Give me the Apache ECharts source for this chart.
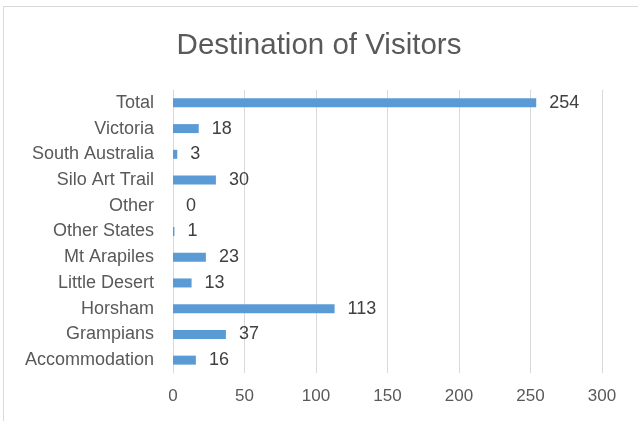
<!DOCTYPE html>
<html>
<head>
<meta charset="utf-8">
<script src="https://cdn.jsdelivr.net/npm/echarts@6/dist/echarts.min.js"></script>
<style>
  html, body { margin: 0; padding: 0; background: #fff; }
  #chart { width: 638px; height: 421px; }
  .frame {
    position: absolute; left: 3px; top: 6px; width: 700px; height: 500px;
    border: 1px solid #d9d9d9; pointer-events: none;
  }
</style>
</head>
<body>
<div id="chart"></div>
<div class="frame"></div>
<script>
// categories, top to bottom
const categories = ['Total', 'Victoria', 'South Australia', 'Silo Art Trail', 'Other',
  'Other States', 'Mt Arapiles', 'Little Desert', 'Horsham', 'Grampians', 'Accommodation']
const visitors = [254, 18, 3, 30, 0, 1, 23, 13, 113, 37, 16]
const xTicks = [0, 50, 100, 150, 200, 250, 300]

const font = 'Liberation Sans, Arial, sans-serif'
const myChart = echarts.init(document.getElementById('chart'))

let options = {
  animation: false,
  title: {
    text: 'Destination of Visitors',
    left: 'center',
    top: 26,
    textStyle: { fontFamily: font, fontSize: 29.5, fontWeight: 'normal', color: '#595959' }
  },
  grid: { left: 173, right: 36, top: 90, bottom: 48 },
  xAxis: {
    type: 'value',
    min: xTicks[0],
    max: xTicks[xTicks.length - 1],
    interval: 50,
    axisLine: { show: false },
    axisTick: { show: false },
    splitLine: { lineStyle: { color: '#d9d9d9', width: 1 } },
    axisLabel: { fontFamily: font, fontSize: 17, color: '#595959', margin: 15 }
  },
  yAxis: {
    type: 'category',
    inverse: true,
    data: categories,
    axisLine: { show: true, lineStyle: { color: '#d9d9d9', width: 1 } },
    axisTick: { show: false },
    axisLabel: { fontFamily: font, fontSize: 18, color: '#595959', margin: 19 }
  },
  series: [
    {
      type: 'bar',
      data: visitors,
      barWidth: 9,
      itemStyle: { color: '#5b9bd5' },
      label: {
        show: true,
        position: 'right',
        distance: 13,
        fontFamily: font,
        fontSize: 18,
        color: '#404040'
      }
    }
  ]
}
myChart.setOption(options)
</script>
</body>
</html>
